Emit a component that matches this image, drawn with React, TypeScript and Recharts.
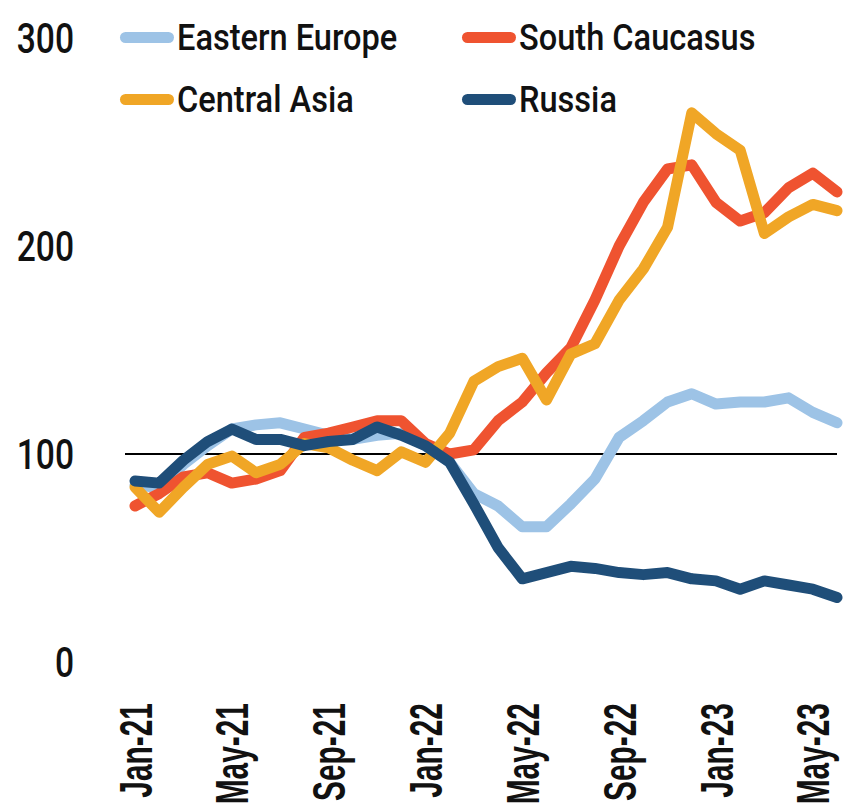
import { LineChart, Line, XAxis, YAxis, ReferenceLine, Legend } from 'recharts';

const months = [
  'Jan-21', 'Feb-21', 'Mar-21', 'Apr-21', 'May-21', 'Jun-21', 'Jul-21', 'Aug-21', 'Sep-21', 'Oct-21', 'Nov-21', 'Dec-21',
  'Jan-22', 'Feb-22', 'Mar-22', 'Apr-22', 'May-22', 'Jun-22', 'Jul-22', 'Aug-22', 'Sep-22', 'Oct-22', 'Nov-22', 'Dec-22',
  'Jan-23', 'Feb-23', 'Mar-23', 'Apr-23', 'May-23', 'Jun-23',
];

const easternEurope = [85, 84, 95, 104, 112, 114, 115, 112, 109, 107, 109, 110, 104, 96, 81, 75, 65, 65, 76, 88, 108, 116, 125, 129, 124, 125, 125, 127, 120, 115];
const southCaucasus = [75, 81, 89, 91, 86, 88, 92, 108, 110, 113, 116, 116, 105, 100, 102, 116, 125, 139, 151, 174, 200, 221, 237, 239, 221, 212, 216, 228, 235, 226];
const centralAsia = [84, 72, 84, 95, 99, 91, 95, 105, 103, 97, 92, 101, 96, 110, 135, 142, 146, 126, 148, 153, 174, 189, 209, 264, 254, 246, 206, 214, 220, 217];
const russia = [87, 86, 97, 106, 112, 107, 107, 104, 106, 107, 113, 109, 104, 96, 76, 55, 40, 43, 46, 45, 43, 42, 43, 40, 39, 35, 39, 37, 35, 31];

const yTicks = [0, 100, 200, 300];

const COLORS = {
  ee: '#9DC3E6',
  sc: '#EF5330',
  ca: '#F0A626',
  ru: '#1F4E79',
};

const SERIES = [
  { key: 'ee', name: 'Eastern Europe' },
  { key: 'sc', name: 'South Caucasus' },
  { key: 'ca', name: 'Central Asia' },
  { key: 'ru', name: 'Russia' },
];

const data = months.map((month, i) => ({
  month,
  ee: easternEurope[i],
  sc: southCaucasus[i],
  ca: centralAsia[i],
  ru: russia[i],
}));

function YTick({ y, payload }: any) {
  return (
    <text
      transform={`translate(74,${y}) scale(0.8,1)`}
      textAnchor='end'
      dy='0.36em'
      fontFamily='Roboto'
      fontWeight={500}
      fontSize={42}
      fill='#111'
    >
      {payload.value}
    </text>
  );
}

function XTick({ x, payload }: any) {
  return (
    <text
      transform={`translate(${x},703) rotate(-90) scale(0.65,1)`}
      textAnchor='end'
      dy='0.36em'
      fontFamily='Liberation Sans'
      fontWeight='bold'
      fontSize={46}
      fill='#111'
    >
      {payload.value}
    </text>
  );
}

// legend laid out in two rows like the source
const legendPos: Record<string, { left: number; top: number }> = {
  ee: { left: 120, top: 37 },
  sc: { left: 462, top: 37 },
  ca: { left: 120, top: 99 },
  ru: { left: 462, top: 99 },
};

function LegendContent() {
  return (
    <div style={{ position: 'relative', width: 843, height: 130 }}>
      {SERIES.map((s) => {
        const p = legendPos[s.key];
        return (
          <div
            key={s.key}
            style={{ position: 'absolute', left: p.left, top: p.top - 25, height: 50, display: 'flex', alignItems: 'center' }}
          >
            <div style={{ width: 54, height: 11, borderRadius: 6, background: COLORS[s.key as keyof typeof COLORS] }} />
            <span
              style={{
                fontFamily: 'Roboto',
                fontWeight: 500,
                fontSize: 37,
                color: '#111',
                marginLeft: 3,
                display: 'inline-block',
                transform: 'scaleX(0.88)',
                transformOrigin: 'left center',
                whiteSpace: 'nowrap',
              }}
            >
              {s.name}
            </span>
          </div>
        );
      })}
    </div>
  );
}

export default function App() {
  return (
    <div style={{ position: 'absolute', left: 0, top: 0, width: 843, height: 812, background: '#fff' }}>
      <LineChart width={843} height={812} data={data} margin={{ top: 38, right: 6, bottom: 0, left: 0 }}>
        <XAxis
          dataKey='month'
          interval={3}
          height={150}
          axisLine={false}
          tickLine={false}
          padding={{ left: 10, right: 0 }}
          tick={<XTick />}
        />
        <YAxis
          domain={[0, 300]}
          ticks={yTicks}
          width={125}
          axisLine={false}
          tickLine={false}
          tick={<YTick />}
        />
        <ReferenceLine y={100} stroke='#000' strokeWidth={2} />
        <Legend
          layout='horizontal'
          verticalAlign='middle'
          align='center'
          content={<LegendContent />}
          wrapperStyle={{ top: 0, left: 0, width: 843, height: 130 }}
        />
        {SERIES.map((s) => (
          <Line
            key={s.key}
            dataKey={s.key}
            name={s.name}
            stroke={COLORS[s.key as keyof typeof COLORS]}
            strokeWidth={11}
            strokeLinecap='round'
            strokeLinejoin='round'
            dot={false}
            activeDot={false}
            isAnimationActive={false}
          />
        ))}
      </LineChart>
    </div>
  );
}
